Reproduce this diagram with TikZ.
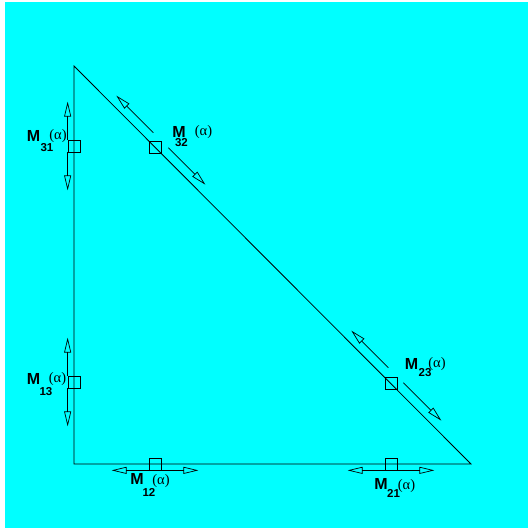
\documentclass[tikz,border=0pt]{standalone}
\usepackage{fontspec}
\setsansfont{Liberation Sans}
\newfontfamily\argfont{Liberation Serif}
\usepackage{tikz}
\usetikzlibrary{arrows.meta}
\definecolor{figbg}{RGB}{0,255,255}

\begin{document}
\begin{tikzpicture}[x=1pt,y=-1pt,
    mark box/.style={draw,line width=0.7pt,minimum size=12pt,inner sep=0pt},
    flow/.style={line width=0.7pt,-{Triangle[open,length=15pt,width=7pt]}},
    bigm/.style={inner sep=0pt,font=\sffamily\bfseries\fontsize{16}{16}\selectfont},
    idx/.style={inner sep=0pt,font=\sffamily\bfseries\fontsize{11.5}{12}\selectfont},
    arg/.style={inner sep=0pt,font=\argfont\fontsize{14.5}{15}\selectfont}]
  \useasboundingbox (0,0) rectangle (528,528);
  \fill[white] (0,0) rectangle (528,528);
  \fill[figbg] (5,2) rectangle (528,528);
  % triangle
  \coordinate (top) at (74,66);
  \coordinate (bl) at (74,464);
  \coordinate (br) at (471,464);
  \draw[line width=0.8pt] (top) -- (bl) -- (br) -- cycle;
  % markers on the edges
  \node[mark box] (s31) at (74,146) {};
  \node[mark box] (s13) at (74,382) {};
  \node[mark box] (s12) at (155,464) {};
  \node[mark box] (s21) at (391,464) {};
  \node[mark box] (s32) at (155,147) {};
  \node[mark box] (s23) at (391,383) {};
  % arrows
  \draw[flow] (s31.north west) -- ++(0,-38);
  \draw[flow] (s31.south west) -- ++(0,38);
  \draw[flow] (s13.north west) -- ++(0,-38);
  \draw[flow] (s13.south west) -- ++(0,38);
  \draw[flow] (s12.south west) -- ++(-37,0);
  \draw[flow] (s12.south east) -- ++(37,0);
  \draw[flow] (s21.south west) -- ++(-37,0);
  \draw[flow] (s21.south east) -- ++(37,0);
  \draw[flow] ([shift={(-8,-8)}]s32.north east) -- ++(-37,-37);
  \draw[flow] ([shift={(7,7)}]s32.north east) -- ++(37,37);
  \draw[flow] ([shift={(-9,-9)}]s23.north east) -- ++(-37,-37);
  \draw[flow] ([shift={(6,6)}]s23.north east) -- ++(38,38);
  % labels
  \node[bigm] (m31) at (33.5,136) {M};
  \node[idx] (i31) at (47,147.5) {31};
  \node[arg] (a31) at (58,136) {(α)};
  \node[bigm] (m13) at (33.5,378.5) {M};
  \node[idx] (i13) at (46,391.5) {13};
  \node[arg] (a13) at (57.5,379.5) {(α)};
  \node[bigm] (m32) at (179,131.5) {M};
  \node[idx] (i32) at (181.5,143) {32};
  \node[arg] (a32) at (203.5,132) {(α)};
  \node[bigm] (m23) at (411.5,363.5) {M};
  \node[idx] (i23) at (425,373) {23};
  \node[arg] (a23) at (437,364) {(α)};
  \node[bigm] (m12) at (137,479) {M};
  \node[idx] (i12) at (149,492) {12};
  \node[arg] (a12) at (161,481.5) {(α)};
  \node[bigm] (m21) at (381,484) {M};
  \node[idx] (i21) at (393.5,493.5) {21};
  \node[arg] (a21) at (406.5,486) {(α)};
\end{tikzpicture}
\end{document}
